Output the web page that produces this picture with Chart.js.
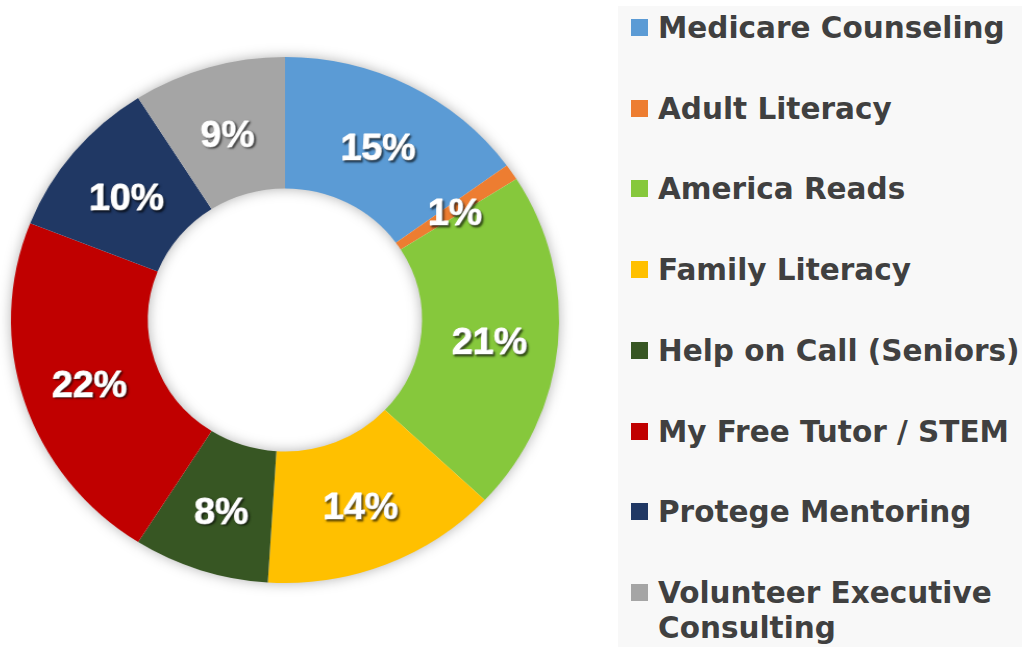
<!DOCTYPE html>
<html>
<head>
<meta charset="utf-8">
<script src="https://cdn.jsdelivr.net/npm/chart.js@4"></script>
<style>
  html, body { margin: 0; padding: 0; background: #ffffff; }
  #wrap { position: relative; width: 1022px; height: 647px; overflow: hidden; }
  /* the original ring is a touch wider than tall */
  #chartBox { position: absolute; left: 0; top: 0; width: 570px; height: 640px;
              transform: scaleX(1.042); transform-origin: 285px 320px; }
  #legend {
    position: absolute; left: 618px; top: 6px; width: 404px; height: 641px;
    background: #f8f8f8;
    font-family: "DejaVu Sans", sans-serif; font-weight: bold; font-size: 29.5px;
    color: #404040;
  }
  .item { position: absolute; left: 13px; width: 400px; line-height: 35px; }
  .box { position: absolute; left: 0; top: 8px; width: 17px; height: 17px; }
  .txt { position: absolute; left: 27px; white-space: nowrap; }
</style>
</head>
<body>
<div id="wrap">
  <div id="chartBox"><canvas id="donut"></canvas></div>
  <div id="legend"></div>
</div>
<script>
// Data
const categories = [
  'Medicare Counseling',
  'Adult Literacy',
  'America Reads',
  'Family Literacy',
  'Help on Call (Seniors)',
  'My Free Tutor / STEM',
  'Protege Mentoring',
  'Volunteer Executive Consulting'
];
const shares = [15, 1, 21, 14, 8, 22, 10, 9];
const sliceColors = ['#5b9bd5', '#ed7d31', '#86c83c', '#ffc000', '#375623', '#c00000', '#203864', '#a5a5a5'];

// soft shadow under the whole ring
const ringShadow = {
  id: 'ringShadow',
  beforeDatasetsDraw(chart) {
    const arc = chart.getDatasetMeta(0).data[0];
    if (!arc) return;
    const ctx = chart.ctx;
    ctx.save();
    ctx.shadowColor = 'rgba(0,0,0,0.35)';
    ctx.shadowBlur = 14;
    ctx.fillStyle = '#ffffff';
    ctx.beginPath();
    ctx.arc(arc.x, arc.y, arc.outerRadius - 1, 0, Math.PI * 2);
    ctx.arc(arc.x, arc.y, arc.innerRadius + 1, 0, Math.PI * 2, true);
    ctx.fill();
    ctx.restore();
  }
};

// percentage labels in the middle of each slice
const sliceLabels = {
  id: 'sliceLabels',
  afterDatasetsDraw(chart) {
    const ctx = chart.ctx;
    const meta = chart.getDatasetMeta(0);
    ctx.save();
    ctx.font = 'bold 36px "Liberation Sans", Arial, sans-serif';
    ctx.textAlign = 'center';
    ctx.textBaseline = 'middle';
    ctx.fillStyle = '#ffffff';
    ctx.strokeStyle = '#ffffff';
    ctx.lineWidth = 1.2;
    ctx.lineJoin = 'round';
    ctx.shadowColor = 'rgba(0,0,0,0.55)';
    ctx.shadowOffsetX = 1.5;
    ctx.shadowOffsetY = 1.5;
    ctx.shadowBlur = 2;
    meta.data.forEach(function (arc, i) {
      const p = arc.tooltipPosition();
      const t = Math.round(shares[i]) + '%';
      ctx.strokeText(t, p.x, p.y + 6);
      ctx.fillText(t, p.x, p.y + 6);
    });
    ctx.restore();
  }
};

new Chart(document.getElementById('donut'), {
  type: 'doughnut',
  data: {
    labels: categories,
    datasets: [{
      data: shares,
      backgroundColor: sliceColors,
      borderWidth: 0
    }]
  },
  options: {
    responsive: true,
    maintainAspectRatio: false,
    animation: false,
    cutout: '50%',
    layout: { padding: 22 },
    plugins: {
      legend: { display: false },
      tooltip: { enabled: false }
    }
  },
  plugins: [ringShadow, sliceLabels]
});

// legend panel
const legendTops = [5, 86, 166, 247, 328, 409, 489, 570];
const legendEl = document.getElementById('legend');
categories.forEach(function (name, i) {
  const item = document.createElement('div');
  item.className = 'item';
  item.style.top = legendTops[i] + 'px';
  let text = name;
  if (name === 'Volunteer Executive Consulting') text = 'Volunteer Executive<br>Consulting';
  item.innerHTML = '<span class="box" style="background:' + sliceColors[i] + '"></span>' +
    '<span class="txt">' + text + '</span>';
  legendEl.appendChild(item);
});
</script>
</body>
</html>
